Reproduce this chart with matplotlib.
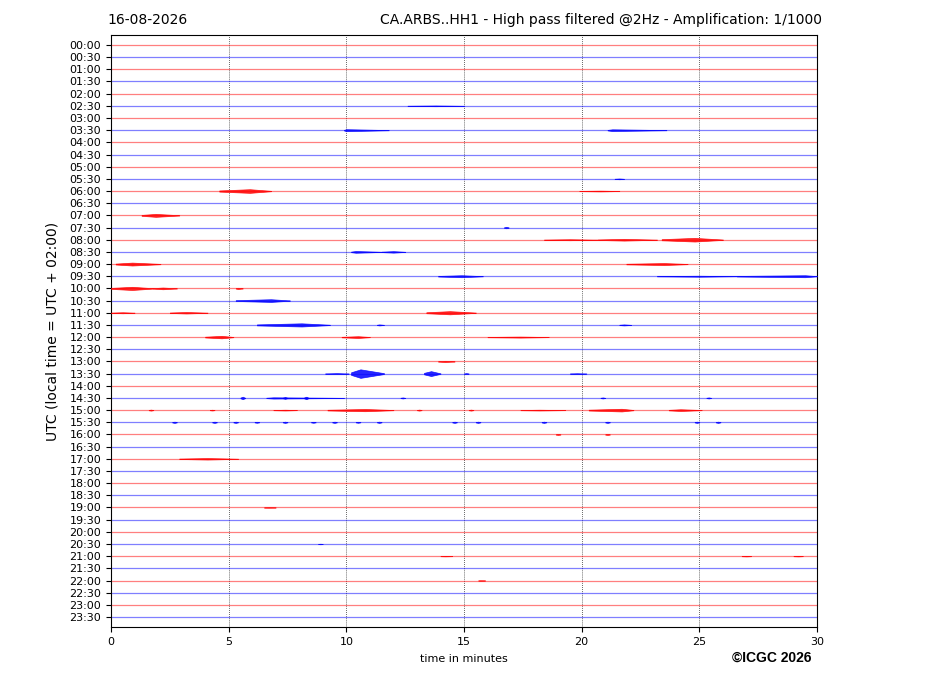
import matplotlib
matplotlib.use("Agg")
import matplotlib.pyplot as plt

# ---- data ----
row_labels = [f"{h:02d}:{m:02d}" for h in range(24) for m in (0, 30)]
x_ticks = [0, 5, 10, 15, 20, 25, 30]

# seismic bursts: row index, start/peak/end minute, half-amplitude (row units)
ev_row = [5, 7, 7, 11, 12, 12, 14,
          15, 16, 16, 16, 17, 17, 18, 18, 19, 19, 19,
          20, 20, 20, 21, 22, 22, 22, 23, 23, 23, 24, 24, 24,
          26, 27, 27, 27, 27, 27,
          29, 29, 29, 29, 29, 29, 29,
          30, 30, 30, 30, 30, 30, 30, 30, 30,
          31, 31, 31, 31, 31, 31, 31, 31, 31, 31, 31, 31, 31, 31, 31,
          32, 32, 34, 38, 41, 42, 42, 42, 44]
ev_start = [12.6, 9.9, 21.1, 21.4, 4.6, 19.9, 1.3,
            16.7, 18.4, 20.7, 23.4, 10.2, 11.5, 0.2, 21.9, 13.9, 23.2, 26.6,
            0.0, 1.8, 5.3, 5.3, 0.0, 2.5, 13.4, 6.2, 11.3, 21.6, 4.0, 9.8, 16.0,
            13.9, 9.1, 10.2, 13.3, 15.0, 19.5,
            5.5, 6.6, 7.3, 8.2, 12.3, 20.8, 25.3,
            1.6, 4.2, 6.9, 9.2, 13.0, 17.4, 20.3, 23.7, 15.2,
            2.6, 4.3, 5.2, 6.1, 7.3, 8.5, 9.4, 10.4, 11.3, 14.5, 15.5, 18.3, 21.0, 24.8, 25.7,
            18.9, 21.0, 2.9, 6.5, 8.8, 26.8, 29.0, 14.0, 15.6]
ev_peak = [13.8, 10.0, 21.3, 21.6, 5.9, 20.8, 1.9,
           16.8, 19.5, 21.8, 24.8, 10.4, 12.0, 0.9, 23.5, 14.9, 25.0, 29.5,
           0.9, 2.2, 5.4, 6.8, 0.5, 3.2, 14.4, 8.1, 11.4, 21.8, 4.7, 10.5, 17.4,
           14.2, 9.6, 10.6, 13.6, 15.1, 19.8,
           5.6, 6.9, 7.4, 8.3, 12.4, 20.9, 25.4,
           1.7, 4.3, 7.4, 10.8, 13.1, 18.2, 21.7, 24.2, 15.3,
           2.7, 4.4, 5.3, 6.2, 7.4, 8.6, 9.5, 10.5, 11.4, 14.6, 15.6, 18.4, 21.1, 24.9, 25.8,
           19.0, 21.1, 4.1, 6.7, 8.9, 27.0, 29.2, 14.2, 15.7]
ev_end = [15.0, 11.8, 23.6, 21.8, 6.8, 21.6, 2.9,
          16.9, 20.7, 23.2, 26.0, 11.5, 12.5, 2.1, 24.5, 15.8, 26.6, 30.0,
          1.8, 2.8, 5.6, 7.6, 1.0, 4.1, 15.5, 9.3, 11.6, 22.1, 5.2, 11.0, 18.6,
          14.6, 10.1, 11.6, 14.0, 15.2, 20.2,
          5.7, 9.9, 7.5, 8.4, 12.5, 21.0, 25.5,
          1.8, 4.4, 7.9, 12.0, 13.2, 19.3, 22.2, 25.1, 15.4,
          2.8, 4.5, 5.4, 6.3, 7.5, 8.7, 9.6, 10.6, 11.5, 14.7, 15.7, 18.5, 21.2, 25.0, 25.9,
          19.1, 21.2, 5.4, 7.0, 9.0, 27.2, 29.4, 14.5, 15.9]
ev_amp = [0.03, 0.08, 0.07, 0.03, 0.15, 0.03, 0.12,
          0.06, 0.04, 0.07, 0.15, 0.07, 0.06, 0.12, 0.08, 0.08, 0.04, 0.08,
          0.13, 0.07, 0.05, 0.11, 0.04, 0.06, 0.13, 0.13, 0.04, 0.04, 0.10, 0.07, 0.04,
          0.05, 0.04, 0.35, 0.20, 0.04, 0.03,
          0.10, 0.05, 0.07, 0.10, 0.04, 0.04, 0.04,
          0.04, 0.03, 0.03, 0.09, 0.04, 0.03, 0.11, 0.07, 0.04,
          0.05, 0.05, 0.05, 0.04, 0.05, 0.04, 0.05, 0.04, 0.05, 0.05, 0.05, 0.05, 0.05, 0.05, 0.05,
          0.04, 0.04, 0.06, 0.015, 0.02, 0.02, 0.02, 0.015, 0.015]

colors = ["#ff0000", "#0000ff"]

fig = plt.figure(figsize=(9.27, 6.96), dpi=100)
ax = fig.add_axes([111 / 927, 1 - 627 / 696, 706 / 927, 592 / 696])

n = len(row_labels)
for i in range(n):
    ax.plot([0, 30], [i, i], color=colors[i % 2], lw=0.9, alpha=0.5, zorder=2)

for r, s, p, e, a in zip(ev_row, ev_start, ev_peak, ev_end, ev_amp):
    c = colors[r % 2]
    ax.fill_between([s, p, e], [r - a * 0.3, r - a, r - a * 0.1], [r + a * 0.3, r + a, r + a * 0.1],
                    color=c, lw=0.5, edgecolor=c, alpha=0.85, zorder=3)

for xv in x_ticks[1:-1]:
    ax.axvline(xv, color="#333333", lw=0.6, ls=(0, (1, 1.5)), zorder=1)

ax.set_xlim(0, 30)
ax.set_ylim(n - 1 + 0.82, -0.82)
ax.set_yticks(range(n))
ax.set_yticklabels(row_labels, fontsize=8)
ax.set_xticks(x_ticks)
ax.set_xticklabels([str(v) for v in x_ticks], fontsize=8)
ax.tick_params(length=3.5, width=0.8)
ax.set_xlabel("time in minutes", fontsize=8, labelpad=5)
ax.set_ylabel("UTC (local time = UTC + 02:00)", fontsize=10, labelpad=7)

fig.text(107 / 927, 1 - 20 / 696, "16-08-2026", fontsize=10, ha="left", va="center")
fig.text(822 / 927, 1 - 20 / 696, "CA.ARBS..HH1 - High pass filtered @2Hz - Amplification: 1/1000",
         fontsize=10, ha="right", va="center")
fig.text(811 / 927, 1 - 658 / 696, "©ICGC 2026", fontsize=10, fontweight="bold",
         family="Liberation Sans", ha="right", va="center")

fig.savefig("out.png", dpi=100)
